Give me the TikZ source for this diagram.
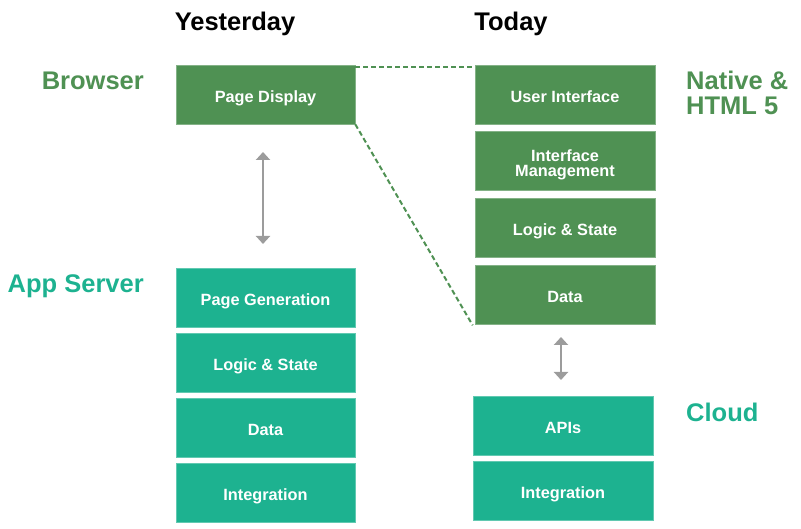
\documentclass[tikz,border=0pt]{standalone}
\usepackage{fontspec}
\setmainfont{Liberation Sans}
\usetikzlibrary{arrows.meta}
\definecolor{dgreen}{HTML}{4F9153}
\definecolor{teal2}{HTML}{1DB290}
\definecolor{agray}{HTML}{9C9C9C}
\begin{document}
\begin{tikzpicture}[x=1pt,y=-1pt,
  boxbase/.style={line width=0.6pt,text=white,font=\bfseries\fontsize{16.3}{15}\selectfont,align=center,inner sep=0pt,text height=16.5pt,text depth=0pt},
  gbox/.style={boxbase,fill=dgreen,draw=dgreen!70!white},
  tbox/.style={boxbase,fill=teal2,draw=teal2!70!white},
  lbox/.style={minimum width=179pt,minimum height=59pt},
  rbox/.style={minimum width=180pt,minimum height=59pt},
  title/.style={font=\bfseries\fontsize{25.5}{26}\selectfont,text=black,inner sep=0pt,anchor=base},
  side/.style={font=\bfseries\fontsize{25.5}{25}\selectfont,inner sep=0pt},
  dash line/.style={dgreen,line width=2pt,dash pattern=on 5pt off 3pt},
  dbl/.style={agray,line width=2pt,{Triangle[width=14pt,length=8pt]}-{Triangle[width=14pt,length=8pt]}}]
\useasboundingbox (0,0) rectangle (801,529);
% titles
\node[title] (yest) at (235,31) {Yesterday};
\node[title] (today) at (511,31) {Today};
% left column
\node[gbox,lbox] (pd) at (265.5,94.5) {Page Display};
\node[tbox,lbox] (pg) at (265.5,297.5) {Page Generation};
\node[tbox,lbox] (ls1) at (265.5,362.5) {Logic \& State};
\node[tbox,lbox] (d1) at (265.5,427.5) {Data};
\node[tbox,lbox] (i1) at (265.5,492.5) {Integration};
% right column
\node[gbox,rbox] (ui) at (565,94.5) {User Interface};
\node[gbox,rbox,text height=32.5pt] (im) at (565,160.5) {Interface\\Management};
\node[gbox,rbox] (ls2) at (565,227.5) {Logic \& State};
\node[gbox,rbox] (d2) at (565,294.5) {Data};
\node[tbox,rbox] (api) at (563,425.5) {APIs};
\node[tbox,rbox] (i2) at (563,490.5) {Integration};
% side labels
\node[side,text=dgreen,anchor=base east] (br) at (144,90) {Browser};
\node[side,text=teal2,anchor=base east] (as) at (144,293) {App Server};
\node[side,text=dgreen,anchor=base west,align=left] (nat) at (686,115) {Native \&\\HTML 5};
\node[side,text=teal2,anchor=base west] (cl) at (686,421) {Cloud};
% dashed connectors
\draw[dash line] ([yshift=-2pt]pd.north east) -- ([yshift=-2pt]ui.north west);
\draw[dash line] (pd.south east) -- ([xshift=-2pt,yshift=-1pt]d2.south west);
% arrows
\coordinate (a1t) at (263,152);
\coordinate (a1b) at (263,244);
\draw[dbl] (a1t) -- (a1b);
\coordinate (a2t) at (561,337);
\coordinate (a2b) at (561,380);
\draw[dbl] (a2t) -- (a2b);
\end{tikzpicture}
\end{document}
